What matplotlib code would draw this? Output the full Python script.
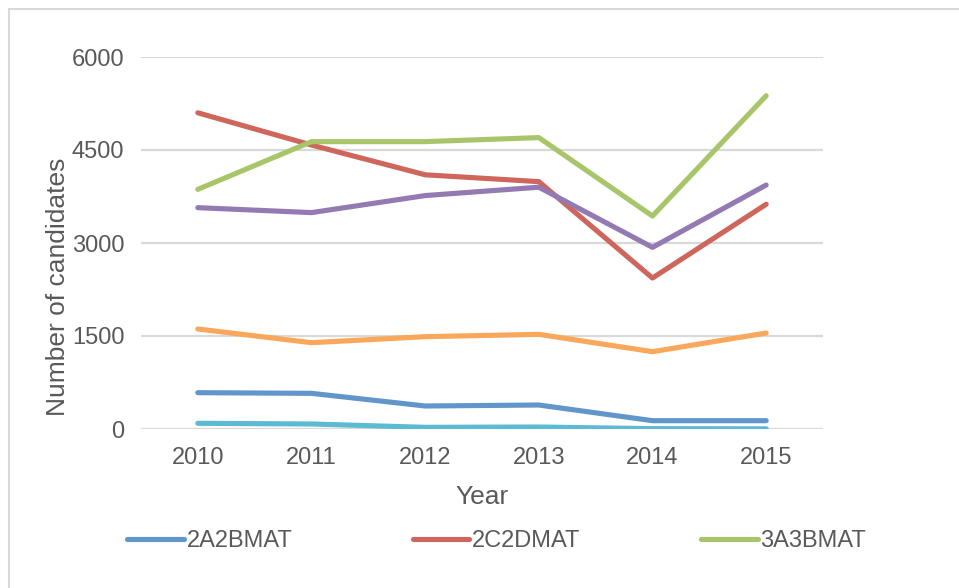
import matplotlib
matplotlib.use('Agg')
import matplotlib.pyplot as plt
from matplotlib.patches import Rectangle

plt.rcParams['font.family'] = ['Liberation Sans', 'DejaVu Sans']

# data
years = ['2010', '2011', '2012', '2013', '2014', '2015']
s_2a2bmat = [586, 575, 371, 387, 134, 134]
s_2c2dmat = [5100, 4580, 4100, 3990, 2435, 3625]
s_3a3bmat = [3865, 4635, 4635, 4700, 3435, 5375]
s_purple = [3570, 3490, 3765, 3900, 2930, 3935]
s_aqua = [92, 81, 27, 32, 6, 3]
s_orange = [1613, 1392, 1489, 1527, 1247, 1548]

series = [
    ('2A2BMAT', s_2a2bmat, '#6096CA'),
    ('2C2DMAT', s_2c2dmat, '#CF665C'),
    ('3A3BMAT', s_3a3bmat, '#A9C56A'),
    ('_nolegend_', s_purple, '#937AB2'),
    ('_nolegend_', s_aqua, '#5CBAD3'),
    ('_nolegend_', s_orange, '#F9A75A'),
]

W, H = 959, 588
fig = plt.figure(figsize=(W / 100, H / 100), dpi=100)

# thin grey frame around the chart area
fig.patches.append(Rectangle((9 / W, -0.1), 1.2, 1 - 9 / H + 0.1, transform=fig.transFigure,
                             fill=False, edgecolor='#D9D9D9', linewidth=1.5))

ax = fig.add_axes([141 / W, 1 - 429 / H, 682 / W, 372 / H])

x = range(len(years))
for name, vals, col in series:
    ax.plot(x, vals, color=col, linewidth=3.7, solid_capstyle='round',
            solid_joinstyle='round', label=name, zorder=3)

ax.set_xlim(-0.5, len(years) - 0.5)
ax.set_ylim(0, 6000)
ax.set_xticks(list(x))
ax.set_xticklabels(years)
ax.set_yticks([0, 1500, 3000, 4500, 6000])
ax.yaxis.grid(True, color='#D9D9D9', linewidth=1.6)
ax.set_axisbelow(True)
for sp in ax.spines.values():
    sp.set_visible(False)
ax.tick_params(axis='both', length=0, labelsize=17, labelcolor='#595959')
ax.tick_params(axis='x', pad=13)
ax.tick_params(axis='y', pad=12)

ax.set_xlabel('Year', fontsize=19, color='#595959')
ax.xaxis.set_label_coords(0.5, (429 - 497) / 372)
ax.xaxis.label.set_va('center')
ax.set_ylabel('Number of candidates', fontsize=19, color='#595959')
ax.yaxis.set_label_coords((58 - 141) / 682, (429 - 287) / 372)
ax.yaxis.label.set_va('center')

leg = fig.legend(loc='center left', bbox_to_anchor=(127 / W, 1 - 541 / H), ncol=3,
                 frameon=False, fontsize=17, handlelength=2.4, handletextpad=0.12,
                 columnspacing=5.1, borderpad=0, borderaxespad=0)
for t in leg.get_texts():
    t.set_color('#595959')

fig.savefig('out.png', dpi=100)
